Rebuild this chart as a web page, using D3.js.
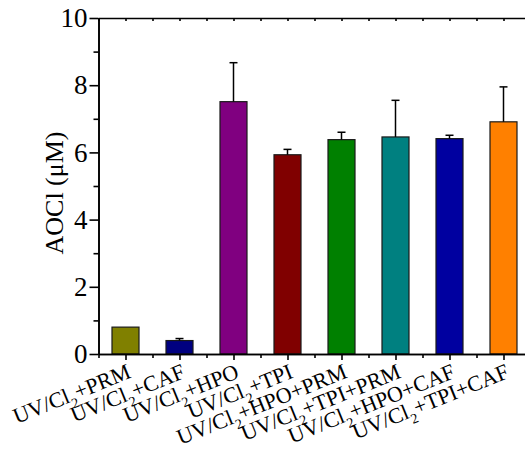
<!DOCTYPE html>
<html>
<head>
<meta charset="utf-8">
<script src="https://cdn.jsdelivr.net/npm/d3@7"></script>
<style>
  body { margin: 0; background: #fff; }
  svg text { font-family: "Liberation Serif", "Times New Roman", Times, serif; fill: #000; }
</style>
</head>
<body>
<svg id="chart" width="525" height="454"></svg>
<script>
// values
const additives = ['PRM', 'CAF', 'HPO', 'TPI', 'HPO+PRM', 'TPI+PRM', 'HPO+CAF', 'TPI+CAF'];
const aocl = [0.80, 0.40, 7.51, 5.93, 6.38, 6.46, 6.41, 6.91];
const aoclErr = [0.00, 0.06, 1.16, 0.16, 0.22, 1.09, 0.10, 1.04];
const barColors = ['#808000', '#000080', '#800080', '#800000', '#008000', '#008080', '#0000a0', '#ff8000'];
const yTicks = [0, 2, 4, 6, 8, 10];
const yMinorTicks = [1, 3, 5, 7, 9];

const plotLeft = 98.5;
const plotRight = 530.5;
const plotTop = 18;
const plotBottom = 354;

const svg = d3.select('#chart');

const xscale = d3.scaleBand()
  .domain(additives)
  .range([plotLeft, plotRight])
  .paddingInner(0.5)
  .paddingOuter(0.25);

// index scale for the tick marks (boundaries at integers, centres at .5)
const iscale = d3.scaleLinear()
  .domain([0, additives.length])
  .range([plotLeft, plotRight]);

const yscale = d3.scaleLinear()
  .domain([0, 10])
  .range([plotBottom, plotTop]);

// bars
svg.append('g')
  .selectAll('rect')
  .data(additives)
  .enter()
  .append('rect')
  .attr('x', (d) => xscale(d))
  .attr('y', (d, i) => yscale(aocl[i]))
  .attr('width', xscale.bandwidth())
  .attr('height', (d, i) => plotBottom - yscale(aocl[i]))
  .attr('fill', (d, i) => barColors[i])
  .attr('stroke', '#1a1a1a')
  .attr('stroke-width', 1.2);

// error bars (upper only)
const errs = svg.append('g')
  .attr('stroke', '#000')
  .attr('stroke-width', 1.5);

additives.forEach((d, i) => {
  if (aoclErr[i] <= 0) return;
  const cx = xscale(d) + xscale.bandwidth() / 2;
  const yTop = yscale(aocl[i] + aoclErr[i]);
  errs.append('line')
    .attr('x1', cx).attr('x2', cx)
    .attr('y1', yscale(aocl[i])).attr('y2', yTop);
  errs.append('line')
    .attr('x1', cx - 4).attr('x2', cx + 4)
    .attr('y1', yTop).attr('y2', yTop);
});

// axes
function styleAxis(g) {
  g.selectAll('path, line').attr('stroke', '#000').attr('stroke-width', 1.6);
  g.attr('font-family', null);
}

const leftAxis = d3.axisLeft(yscale)
  .tickValues(yTicks)
  .tickSize(9)
  .tickSizeOuter(0)
  .tickPadding(2);
svg.append('g')
  .attr('transform', `translate(${plotLeft}, 0)`)
  .call(leftAxis)
  .call(styleAxis)
  .call((g) => g.selectAll('text').attr('font-size', 27));

svg.append('g')
  .attr('transform', `translate(${plotLeft}, 0)`)
  .call(d3.axisLeft(yscale).tickValues(yMinorTicks).tickSize(5).tickSizeOuter(0).tickFormat(''))
  .call(styleAxis);

const majorX = additives.map((d, i) => i + 0.5);
const minorX = d3.range(0, additives.length + 1);

svg.append('g')
  .attr('transform', `translate(0, ${plotBottom})`)
  .call(d3.axisBottom(iscale).tickValues(majorX).tickSize(6).tickSizeOuter(0).tickFormat(''))
  .call(styleAxis);

svg.append('g')
  .attr('transform', `translate(0, ${plotBottom})`)
  .call(d3.axisBottom(iscale).tickValues(minorX).tickSize(4).tickSizeOuter(0).tickFormat(''))
  .call(styleAxis);

// top frame line with small inward ticks
svg.append('g')
  .attr('transform', `translate(0, ${plotTop})`)
  .call(d3.axisTop(iscale).tickValues(majorX.concat(minorX)).tickSize(-3).tickSizeOuter(0).tickFormat(''))
  .call(styleAxis);

// category labels
const labels = svg.append('g');
additives.forEach((d, i) => {
  const t = labels.append('text')
    .attr('transform', `translate(${iscale(i + 0.5) + 1}, ${plotBottom + 9}) rotate(-22)`)
    .attr('text-anchor', 'end')
    .attr('dy', '0.7em')
    .attr('font-size', 22);
  t.append('tspan').text('UV/Cl');
  t.append('tspan').text('2').attr('font-size', 14).attr('dy', 7);
  t.append('tspan').text('+' + d).attr('dy', -7);
});

// y label
svg.append('text')
  .attr('transform', 'translate(63, 193) rotate(-90)')
  .attr('text-anchor', 'middle')
  .attr('font-size', 26)
  .text('AOCl (\u03bcM)');
</script>
</body>
</html>
